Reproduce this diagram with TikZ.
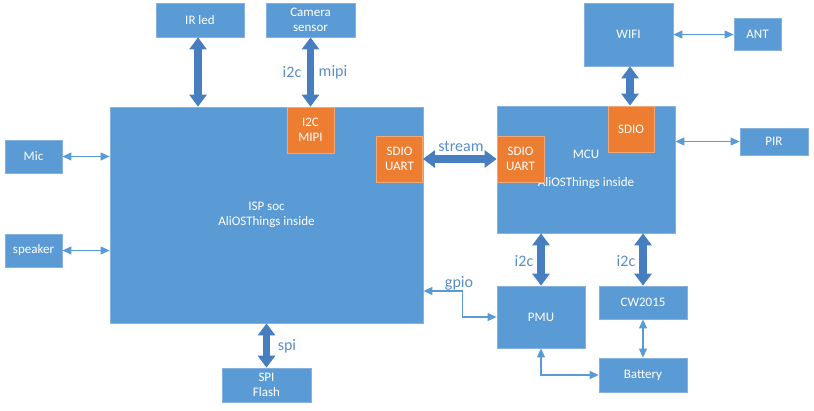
\documentclass[tikz,border=0pt]{standalone}
\usepackage{fontspec}
\setmainfont{Carlito}
\usetikzlibrary{arrows.meta}
\definecolor{boxblue}{HTML}{5B9BD5}
\definecolor{boxedge}{HTML}{86B0DE}
\definecolor{boxorange}{HTML}{ED7D31}
\definecolor{orangeedge}{HTML}{F3A877}
\definecolor{thickblue}{RGB}{70,126,191}
\definecolor{thinblue}{HTML}{5B9BD5}
\definecolor{lblblue}{HTML}{5A8CC8}
\tikzset{
  box/.style={rectangle, fill=boxblue, draw=boxedge, line width=0.8pt, text=white, align=center, inner sep=0pt, font=\fontsize{13}{15.5}\selectfont},
  obox/.style={box, fill=boxorange, draw=orangeedge},
  thickarr/.style={draw=thickblue, line width=7.5pt, {Triangle[width=17pt,length=12pt]}-{Triangle[width=17pt,length=12pt]}},
  thinarr/.style={draw=thinblue, line width=1.1pt, {Triangle[width=8pt,length=9pt]}-{Triangle[width=8pt,length=9pt]}},
  lbl/.style={text=lblblue, font=\fontsize{16}{19}\selectfont, inner sep=0pt}
}
\begin{document}
\begin{tikzpicture}[x=1pt,y=-1pt]
\useasboundingbox (0,0) rectangle (814,410);
% boxes
\node[box, minimum width=88pt, minimum height=34pt] (irled) at (200,20) {IR led};
\node[box, minimum width=89pt, minimum height=34pt] (cam) at (310.5,20) {Camera\\sensor};
\node[box, minimum width=313pt, minimum height=216pt] (isp) at (266.5,215) {ISP soc\\AliOSThings inside};
\node[obox, minimum width=47pt, minimum height=46pt] (i2cmipi) at (310.5,130) {I2C\\MIPI};
\node[obox, minimum width=46pt, minimum height=46pt] (sdiol) at (399.5,159) {SDIO\\UART};
\node[box, minimum width=178pt, minimum height=127pt] (mcu) at (586,169.5) {MCU\\[13pt]AliOSThings inside};
\node[obox, minimum width=47pt, minimum height=46pt] (sdior) at (520.5,159) {SDIO\\UART};
\node[obox, minimum width=46pt, minimum height=46pt] (sdiot) at (631,129) {SDIO};
\node[box, minimum width=89pt, minimum height=63pt] (wifi) at (628.5,34.5) {WIFI};
\node[box, minimum width=47pt, minimum height=32pt] (ant) at (757.5,34.5) {ANT};
\node[box, minimum width=68pt, minimum height=27pt] (pir) at (774,141.5) {PIR};
\node[box, minimum width=57pt, minimum height=33pt] (mic) at (33.5,156.5) {Mic};
\node[box, minimum width=57pt, minimum height=33pt] (spk) at (33.5,250.5) {speaker};
\node[box, minimum width=88pt, minimum height=62pt] (pmu) at (541,317) {PMU};
\node[box, minimum width=88pt, minimum height=33pt] (cw) at (643,302.5) {CW2015};
\node[box, minimum width=88pt, minimum height=34pt] (bat) at (643,375) {Battery};
\node[box, minimum width=89pt, minimum height=34pt] (spi) at (266.5,385) {SPI\\Flash};
% thick arrows
\draw[thickarr] ([xshift=-2pt]irled.south) -- ([xshift=-2pt]irled.south |- isp.north);
\draw[thickarr] (cam.south) -- (i2cmipi.north);
\draw[thickarr] (sdiol.east) -- (sdior.west);
\draw[thickarr] ([xshift=1.5pt]wifi.south) -- ([xshift=1.5pt]wifi.south |- sdiot.north);
\draw[thickarr] (pmu.north |- mcu.south) -- (pmu.north);
\draw[thickarr] (cw.north |- mcu.south) -- (cw.north);
\draw[thickarr] (isp.south) -- (spi.north);
% thin arrows
\draw[thinarr] (mic.east) -- (mic.east -| isp.west);
\draw[thinarr] (spk.east) -- (spk.east -| isp.west);
\draw[thinarr] (wifi.east) -- (ant.west);
\draw[thinarr] (pir.west -| mcu.east) -- (pir.west);
\coordinate (gpioin) at (isp.east |- {(0,291)});
\draw[thinarr] (gpioin) -- ++(39,0) |- (pmu.west);
\draw[thinarr] (pmu.south) |- (bat.west);
\draw[thinarr] (cw.south) -- (bat.north);
% labels
\node[lbl] (l1) at (292,72) {i2c};
\node[lbl] (l2) at (333,72) {mipi};
\node[lbl] (l3) at (461,146) {stream};
\node[lbl] (l4) at (524,261) {i2c};
\node[lbl] (l5) at (626,261) {i2c};
\node[lbl] (l6) at (459,283) {gpio};
\node[lbl] (l7) at (287,346) {spi};
\end{tikzpicture}
\end{document}
